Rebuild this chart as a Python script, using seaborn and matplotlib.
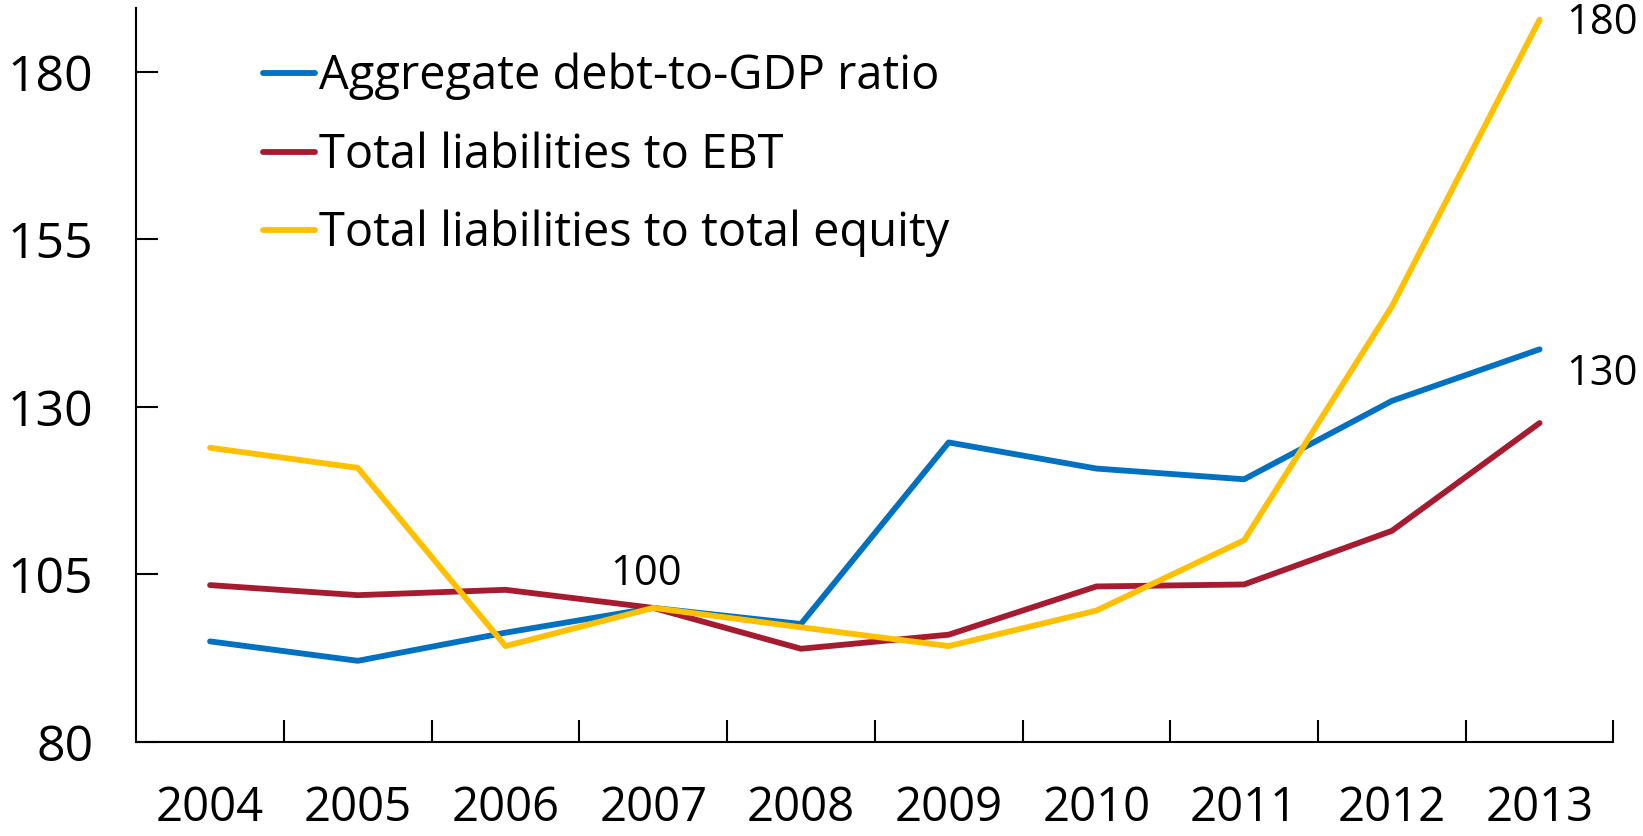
import matplotlib
matplotlib.use("Agg")
import matplotlib.pyplot as plt
import seaborn as sns
import pandas as pd
import numpy as np
from matplotlib.lines import Line2D

years = ["2004", "2005", "2006", "2007", "2008", "2009", "2010", "2011", "2012", "2013"]
debt_gdp = [95.0, 92.1, 96.3, 100.0, 97.6, 124.7, 120.8, 119.2, 130.9, 138.6]
liab_ebt = [103.4, 101.9, 102.7, 100.0, 93.9, 96.0, 103.2, 103.5, 111.5, 127.6]
liab_equity = [123.9, 120.9, 94.3, 100.0, 97.1, 94.3, 99.6, 110.1, 145.0, 187.8]
series_names = ["Aggregate debt-to-GDP ratio", "Total liabilities to EBT", "Total liabilities to total equity"]
colors = ["#0070C0", "#A51C30", "#FFC000"]
yticks = [80, 105, 130, 155, 180]
annot_text = ["180", "130", "100"]
annot_x = [9.42, 9.42, 2.95]
annot_y = [187.3, 134.9, 105.0]

sns.set_theme(style="white")
plt.rcParams['font.family'] = ['Open Sans', 'DejaVu Sans']
plt.rcParams['text.color'] = 'black'
plt.rcParams['xtick.color'] = 'black'
plt.rcParams['ytick.color'] = 'black'

rows = []
for name, vals in zip(series_names, [debt_gdp, liab_ebt, liab_equity]):
    for i, v in enumerate(vals):
        rows.append({"x": i, "value": v, "series": name})
df = pd.DataFrame(rows)

fig = plt.figure(figsize=(16.43, 8.36), dpi=100)
ax = fig.add_axes([0.0829, 0.1126, 0.982 - 0.0829, 0.99 - 0.1126])

sns.lineplot(data=df, x="x", y="value", hue="series", hue_order=series_names,
             palette=colors, linewidth=4.2, ax=ax, legend=False, sort=False)

ax.set_xlim(-0.5, 9.5)
ax.set_ylim(80, 189.5)
ax.set_xlabel("")
ax.set_ylabel("")

# major ticks at category boundaries, labels via minor ticks
ax.set_xticks(np.arange(0.5, 10, 1.0))
ax.set_xticklabels([])
ax.set_xticks(np.arange(0, 10), minor=True)
ax.set_xticklabels(years, minor=True, fontsize=34)
ax.tick_params(axis='x', which='major', bottom=True, direction='in', length=16, width=1.5, color='black')
ax.tick_params(axis='x', which='minor', bottom=True, length=0, pad=31, labelcolor='black')

ax.set_yticks(yticks)
ax.set_yticklabels([str(t) for t in yticks], fontsize=36)
ax.tick_params(axis='y', which='major', left=True, direction='in', length=16, width=1.5,
               color='black', pad=31, labelcolor='black')

for s in ["top", "right"]:
    ax.spines[s].set_visible(False)
for s in ["left", "bottom"]:
    ax.spines[s].set_color("black")
    ax.spines[s].set_linewidth(1.5)

handles = [Line2D([0], [0], color=c, lw=4.2, solid_capstyle='round') for c in colors]
fig.legend(handles, series_names, loc='upper left', bbox_to_anchor=(263 / 1643, 1 - 53 / 836),
           bbox_transform=fig.transFigure, frameon=False, handlelength=1.1,
           handletextpad=0.1, labelspacing=0.66, borderpad=0, borderaxespad=0,
           prop={'size': 33.8}, labelcolor='black')

for t, x, y in zip(annot_text, annot_x, annot_y):
    ax.text(x, y, t, fontsize=30, ha='center', va='center', color='black', clip_on=False)

fig.savefig("out.png", dpi=100)
